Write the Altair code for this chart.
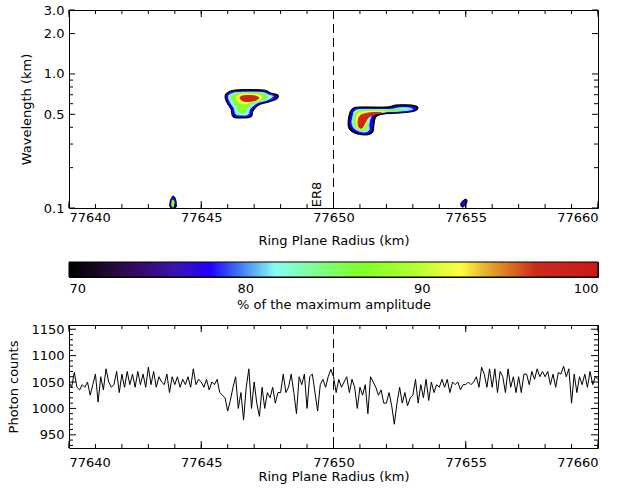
import altair as alt
import pandas as pd

# ---------------- data ----------------
radius_major = [77640, 77645, 77650, 77655, 77660]
radius_minor = list(range(77640, 77661))
wl_labels = [0.1, 0.5, 1.0, 2.0, 3.0]
wl_minor = [0.2, 0.3, 0.4, 0.6, 0.7, 0.8, 0.9]
count_labels = [950, 1000, 1050, 1100, 1150]
count_minor = [930, 940, 960, 970, 980, 990, 1010, 1020, 1030, 1040, 1060, 1070,
               1080, 1090, 1110, 1120, 1130, 1140]
cbar_labels = [70, 80, 90, 100]
resonance_radius = 77650.0
resonance_label = "ER8"

# photon counts, one sample every 0.1 km from 77640 km
counts = [
    1050, 1040, 1068, 1040, 1035, 1045, 1040, 1050, 1025, 1045,
    1065, 1012, 1060, 1035, 1075, 1050, 1040, 1045, 1070, 1030,
    1065, 1040, 1070, 1045, 1065, 1040, 1070, 1045, 1065, 1040,
    1078, 1045, 1070, 1040, 1060, 1050, 1045, 1065, 1030, 1060,
    1045, 1060, 1040, 1055, 1045, 1060, 1040, 1075, 1045, 1055,
    1050, 1040, 1055, 1035, 1050, 1045, 1055, 1030, 1025, 1020,
    995, 1015, 1040, 1060, 1000, 1030, 978, 1040, 1075, 1000,
    1050, 1010, 985, 1040, 1000, 1030, 1020, 1040, 1010, 1030,
    1030, 1065, 1030, 1040, 1065, 1030, 990, 1060, 1045, 1065,
    1000, 1060, 1065, 1030, 995, 1045, 1055, 1040, 1060, 1074,
    1060, 1030, 1055, 1040, 1050, 1060, 1030, 1055, 1040, 1000,
    1040, 1025, 1045, 990, 1060, 1050, 1040, 1025, 1035, 1010,
    1010, 1030, 1005, 970, 1010, 1040, 1010, 1030, 1005, 1020,
    1025, 1055, 1010, 1045, 1020, 1055, 1015, 1050, 1030, 1045,
    1040, 1055, 1040, 1055, 1030, 1050, 1045, 1050, 1035, 1045,
    1045, 1050, 1045, 1050, 1060, 1040, 1078, 1065, 1040, 1075,
    1040, 1075, 1030, 1070, 1060, 1030, 1075, 1040, 1060, 1030,
    1060, 1030, 1065, 1065, 1045, 1070, 1055, 1075, 1060, 1070,
    1060, 1070, 1045, 1065, 1040, 1068, 1065, 1080, 1060, 1075,
    1010, 1065, 1030, 1060, 1045, 1065, 1040, 1070, 1045, 1060,
    1055,
]
radius = [round(77640 + 0.1 * i, 1) for i in range(len(counts))]

# wavelet amplitude contours: (radius km, wavelength km) outlines per level (%)
blob1_70 = [(77645.97, 0.721), (77646.31, 0.760), (77647.33, 0.760), (77647.64, 0.721),
            (77647.90, 0.697), (77647.86, 0.651), (77647.56, 0.618), (77647.18, 0.587),
            (77646.96, 0.529), (77646.88, 0.478), (77646.50, 0.469), (77646.20, 0.478),
            (77646.12, 0.548), (77645.97, 0.608), (77645.90, 0.674)]
blob1_78 = [(77646.01, 0.709), (77646.35, 0.740), (77647.30, 0.740), (77647.60, 0.709),
            (77647.83, 0.685), (77647.79, 0.656), (77647.52, 0.629), (77647.15, 0.597),
            (77646.92, 0.539), (77646.84, 0.486), (77646.50, 0.482), (77646.24, 0.490),
            (77646.16, 0.548), (77646.01, 0.613), (77645.95, 0.674)]
blob1_82 = [(77646.09, 0.703), (77646.39, 0.728), (77647.26, 0.728), (77647.56, 0.697),
            (77647.71, 0.679), (77647.49, 0.640), (77647.11, 0.608), (77646.84, 0.548),
            (77646.77, 0.499), (77646.50, 0.494), (77646.31, 0.503), (77646.24, 0.558),
            (77646.09, 0.618), (77646.03, 0.674)]
blob1_87 = [(77646.20, 0.697), (77646.47, 0.721), (77647.22, 0.715), (77647.49, 0.685),
            (77647.37, 0.651), (77647.03, 0.618), (77646.77, 0.567), (77646.62, 0.520),
            (77646.43, 0.520), (77646.35, 0.567), (77646.20, 0.629), (77646.12, 0.674)]
blob1_92 = [(77646.35, 0.685), (77646.58, 0.709), (77647.11, 0.703), (77647.30, 0.674),
            (77647.15, 0.640), (77646.88, 0.618), (77646.65, 0.597), (77646.47, 0.608),
            (77646.35, 0.640), (77646.31, 0.668)]
blob1_97 = [(77646.50, 0.679), (77646.73, 0.691), (77647.03, 0.685), (77647.18, 0.662),
            (77647.03, 0.634), (77646.77, 0.623), (77646.58, 0.629), (77646.48, 0.651)]

blob2_70 = [(77650.70, 0.548), (77650.96, 0.567), (77651.98, 0.567), (77652.36, 0.587),
            (77652.93, 0.587), (77653.19, 0.567), (77653.08, 0.529), (77652.55, 0.512),
            (77651.91, 0.503), (77651.61, 0.478), (77651.53, 0.416), (77651.49, 0.369),
            (77651.27, 0.351), (77650.89, 0.357), (77650.62, 0.382), (77650.55, 0.424),
            (77650.59, 0.494)]
blob2_78 = [(77650.74, 0.539), (77651.00, 0.553), (77652.02, 0.553), (77652.40, 0.572),
            (77652.93, 0.572), (77653.12, 0.558), (77653.01, 0.534), (77652.55, 0.520),
            (77651.87, 0.512), (77651.53, 0.486), (77651.46, 0.416), (77651.42, 0.376),
            (77651.23, 0.360), (77650.93, 0.366), (77650.70, 0.389), (77650.62, 0.431),
            (77650.66, 0.494)]
blob2_82 = [(77650.81, 0.529), (77651.08, 0.543), (77652.10, 0.543), (77652.48, 0.558),
            (77652.85, 0.558), (77652.97, 0.543), (77652.51, 0.529), (77651.83, 0.520),
            (77651.46, 0.494), (77651.34, 0.424), (77651.34, 0.382), (77651.19, 0.369),
            (77650.96, 0.376), (77650.78, 0.395), (77650.70, 0.431), (77650.74, 0.486)]
blob2_87 = [(77650.89, 0.520), (77651.15, 0.534), (77652.17, 0.539), (77652.63, 0.543),
            (77652.36, 0.529), (77651.80, 0.525), (77651.38, 0.499), (77651.27, 0.431),
            (77651.23, 0.389), (77651.08, 0.379), (77650.93, 0.389), (77650.81, 0.409),
            (77650.78, 0.446), (77650.81, 0.486)]
blob2_92 = [(77650.96, 0.512), (77651.27, 0.525), (77651.98, 0.525), (77651.72, 0.512),
            (77651.42, 0.494), (77651.27, 0.446), (77651.15, 0.395), (77651.00, 0.389),
            (77650.89, 0.409), (77650.85, 0.454), (77650.89, 0.486)]
blob2_97 = [(77651.04, 0.494), (77651.34, 0.512), (77651.80, 0.516), (77651.61, 0.503),
            (77651.34, 0.478), (77651.19, 0.431), (77651.08, 0.395), (77650.96, 0.402),
            (77650.93, 0.438), (77650.96, 0.469)]

blob3_70 = [(77643.86, 0.1167), (77643.93, 0.1229), (77644.01, 0.1188), (77644.05, 0.1109),
            (77644.05, 0.1017), (77643.93, 0.1000), (77643.82, 0.1017), (77643.82, 0.1109)]
blob3_78 = [(77643.88, 0.1147), (77643.93, 0.1198), (77643.99, 0.1157), (77644.01, 0.1090),
            (77644.01, 0.1026), (77643.93, 0.1009), (77643.86, 0.1026), (77643.86, 0.1099)]
blob3_87 = [(77643.89, 0.1118), (77643.93, 0.1147), (77643.97, 0.1118), (77643.97, 0.1035),
            (77643.93, 0.1021), (77643.89, 0.1035)]

blob4_70 = [(77654.82, 0.1035), (77654.82, 0.1090), (77654.93, 0.1147), (77655.01, 0.1167),
            (77655.05, 0.1128), (77655.01, 0.1071), (77654.90, 0.1017)]
blob4_78 = [(77654.86, 0.1053), (77654.86, 0.1090), (77654.93, 0.1128), (77654.99, 0.1138),
            (77655.01, 0.1109), (77654.95, 0.1062), (77654.90, 0.1044)]

contours = [
    ("b1", 70, blob1_70), ("b1", 78, blob1_78), ("b1", 82, blob1_82),
    ("b1", 87, blob1_87), ("b1", 92, blob1_92), ("b1", 97, blob1_97),
    ("b2", 70, blob2_70), ("b2", 78, blob2_78), ("b2", 82, blob2_82),
    ("b2", 87, blob2_87), ("b2", 92, blob2_92), ("b2", 97, blob2_97),
    ("b3", 70, blob3_70), ("b3", 78, blob3_78), ("b3", 87, blob3_87),
    ("b4", 70, blob4_70), ("b4", 78, blob4_78),
]
levels = [70, 78, 82, 87, 92, 97]

# colour table (% of max amplitude -> colour)
cmap_values = [70, 72, 74, 76, 78, 79.5, 81.7, 84, 86.5, 89.5, 92.2, 93.5, 95, 96.5, 100]
cmap_colors = ["#000000", "#1c0a2c", "#360a68", "#3a14b0", "#2000ff", "#3c6cf4",
               "#88fcf0", "#80ff90", "#80ff28", "#b0ff30", "#ffff40", "#e8b830",
               "#d87020", "#cc2a1c", "#cc1818"]

# ---------------- layout constants ----------------
W = 529
H_TOP = 198
H_CB = 15
H_BOT = 123
FONT = "DejaVu Sans"

rows = []
for blob, lev, pts in contours:
    for i, (r, w) in enumerate(pts):
        rows.append({"blob": blob, "level": lev, "i": i, "r": r, "w": w})
poly_df = pd.DataFrame(rows)

cscale = alt.Scale(domain=cmap_values, range=cmap_colors, interpolate="rgb")

x_scale = alt.Scale(domain=[77640, 77660], nice=False, zero=False)
x_axis_top = alt.Axis(values=radius_major, format="d", ticks=False, domain=False, grid=False,
                      title="Ring Plane Radius (km)", labelPadding=3, titlePadding=10)
x_axis_bot = alt.Axis(values=radius_major, format="d", ticks=False, domain=False, grid=False,
                      title="Ring Plane Radius (km)", labelPadding=8, titlePadding=1)
y_scale_top = alt.Scale(type="log", domain=[0.1, 3.0], nice=False)
y_axis_top = alt.Axis(values=wl_labels, format=".1f", ticks=False, domain=False, grid=False,
                      title="Wavelength (km)", labelPadding=5, titlePadding=10)
y_scale_bot = alt.Scale(domain=[925, 1158], nice=False, zero=False)
y_axis_bot = alt.Axis(values=count_labels, format="d", ticks=False, domain=False, grid=False,
                      title="Photon counts", labelPadding=5, titlePadding=10)

XT = alt.X("r:Q", scale=x_scale, axis=x_axis_top)
YT = alt.Y("w:Q", scale=y_scale_top, axis=y_axis_top)
XB = alt.X("r:Q", scale=x_scale, axis=x_axis_bot)
YB = alt.Y("c:Q", scale=y_scale_bot, axis=y_axis_bot)


def xticks(vals, xenc, length, h):
    d = pd.DataFrame({"r": vals})
    bot = alt.Chart(d).mark_rule(color="black", strokeWidth=1).encode(
        x=xenc, y=alt.value(h), y2=alt.value(h - length))
    top = alt.Chart(d).mark_rule(color="black", strokeWidth=1).encode(
        x=xenc, y=alt.value(0), y2=alt.value(length))
    return [bot, top]


def yticks(vals, field, yenc, length):
    d = pd.DataFrame({field: vals})
    left = alt.Chart(d).mark_rule(color="black", strokeWidth=1).encode(
        y=yenc, x=alt.value(0), x2=alt.value(length))
    right = alt.Chart(d).mark_rule(color="black", strokeWidth=1).encode(
        y=yenc, x=alt.value(W), x2=alt.value(W - length))
    return [left, right]


# ---------------- top panel ----------------
poly_layers = []
for lev in levels:
    poly_layers.append(
        alt.Chart(poly_df).transform_filter(alt.datum.level == lev)
        .mark_line(interpolate="cardinal-closed", strokeWidth=1, clip=True)
        .encode(
            x=XT, y=YT,
            fill=alt.Fill("level:Q", scale=cscale, legend=None),
            stroke=alt.Stroke("level:Q", scale=cscale, legend=None),
            detail="blob:N",
            order=alt.Order("i:Q"),
        )
    )

res_df = pd.DataFrame({"r": [resonance_radius]})
dash_top = alt.Chart(res_df).mark_rule(color="black", strokeWidth=1, strokeDash=[9, 5]).encode(
    x=XT, y=alt.value(0), y2=alt.value(H_TOP))
lab_df = pd.DataFrame({"r": [77649.38], "w": [0.1015], "t": [resonance_label]})
er8 = alt.Chart(lab_df).mark_text(angle=270, align="left", baseline="middle",
                                  fontSize=13, font=FONT, color="black").encode(
    x=XT, y=YT, text="t:N")

top_layers = poly_layers + [dash_top, er8]
top_layers += xticks(radius_minor, XT, 4, H_TOP) + xticks(radius_major, XT, 7, H_TOP)
top_layers += yticks(wl_minor, "w", YT, 4) + yticks(wl_labels, "w", YT, 6)
top = alt.layer(*top_layers).properties(width=W, height=H_TOP)

# ---------------- colour bar ----------------
stops = [alt.GradientStop(color=c, offset=(v - 70) / 30.0) for v, c in zip(cmap_values, cmap_colors)]
cb_df = pd.DataFrame({"lo": [70], "hi": [100]})
cbar = alt.Chart(cb_df).mark_rect(
    color=alt.LinearGradient(gradient="linear", stops=stops, x1=0, x2=1, y1=0, y2=0),
    stroke="black", strokeWidth=1,
).encode(
    x=alt.X("lo:Q", scale=alt.Scale(domain=[70, 100], nice=False, zero=False),
            axis=alt.Axis(values=cbar_labels, format="d", ticks=False, domain=False, grid=False,
                          title="% of the maximum amplitude", labelPadding=5, titlePadding=3)),
    x2="hi:Q", y=alt.value(0), y2=alt.value(H_CB),
).properties(width=W, height=H_CB)

# ---------------- bottom panel ----------------
line_df = pd.DataFrame({"r": radius, "c": counts})
line = alt.Chart(line_df).mark_line(color="black", strokeWidth=1, clip=True).encode(x=XB, y=YB)
dash_bot = alt.Chart(res_df).mark_rule(color="black", strokeWidth=1, strokeDash=[9, 5]).encode(
    x=XB, y=alt.value(0), y2=alt.value(H_BOT))
bot_layers = [line, dash_bot]
bot_layers += xticks(radius_minor, XB, 4, H_BOT) + xticks(radius_major, XB, 7, H_BOT)
bot_layers += yticks(count_minor, "c", YB, 4) + yticks(count_labels, "c", YB, 7)
bottom = alt.layer(*bot_layers).properties(width=W, height=H_BOT)

upper = alt.vconcat(top, cbar, spacing=13)
chart = alt.vconcat(upper, bottom, spacing=10).properties(
    padding={"left": 7, "top": 3, "right": 2, "bottom": 2},
    background="white",
).configure_view(stroke="black", strokeWidth=1).configure_axis(
    labelFont=FONT, labelFontSize=13, labelColor="black",
    titleFont=FONT, titleFontSize=13, titleFontWeight="normal", titleColor="black",
)

chart.save("out.html", embed_options={"renderer": "svg", "actions": False})
